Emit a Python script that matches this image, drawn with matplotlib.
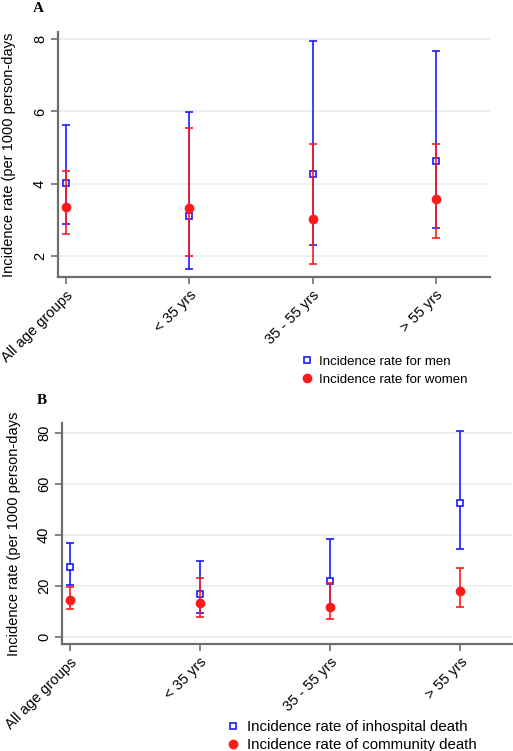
import numpy as np
import matplotlib
matplotlib.use("Agg")
import matplotlib.pyplot as plt

plt.rcParams["font.family"] = ["Liberation Sans", "DejaVu Sans"]

groups = ["All age groups", "< 35 yrs", "35 - 55 yrs", "> 55 yrs"]

# Panel A: incidence by sex
men_rate = [4.02, 3.12, 4.28, 4.64]
men_lo = [2.88, 1.63, 2.30, 2.78]
men_hi = [5.62, 5.98, 7.95, 7.68]
women_rate = [3.37, 3.33, 3.02, 3.58]
women_lo = [2.60, 2.00, 1.78, 2.50]
women_hi = [4.35, 5.53, 5.09, 5.11]

# Panel B: inhospital vs community death
inhosp_rate = [27.5, 16.8, 22.0, 52.5]
inhosp_lo = [20.3, 9.5, 11.8, 34.5]
inhosp_hi = [36.8, 30.0, 38.4, 80.8]
comm_rate = [14.7, 13.4, 11.8, 18.0]
comm_lo = [11.0, 8.0, 7.0, 12.0]
comm_hi = [19.5, 23.0, 21.2, 27.0]

BLUE = "#1a1aff"
RED = "#ff1a1a"
GRID = "#e8f0f2"
AXC = "#6e6e6e"


def panel(ax, s1, s2, lab1, lab2, yticks, ylim, xlim, leg_anchor, leg_fs, leg_sp):
    x = np.arange(1, len(groups) + 1)
    for (rate, lo, hi), col, mk, ms, lab, z in [
            (s1, BLUE, "s", 4.6, lab1, 3), (s2, RED, "o", 5.8, lab2, 4)]:
        rate, lo, hi = map(np.asarray, (rate, lo, hi))
        ax.errorbar(x, rate, yerr=[rate - lo, hi - rate], fmt="none",
                    ecolor=col, elinewidth=1.4, capsize=2.8, capthick=1.4,
                    alpha=0.85, zorder=z)
        ax.plot(x, rate, ls="none", marker=mk, ms=ms, mew=1.2,
                mfc="white" if mk == "s" else col, mec=col,
                zorder=z + 1, label=lab)
    ax.set_xticks(x)
    ax.set_xticklabels(groups, rotation=45, ha="right", rotation_mode="anchor",
                       fontsize=10.5)
    ax.set_yticks(yticks)
    ax.set_yticklabels([str(t) for t in yticks], rotation=90, va="center",
                       fontsize=10.5)
    ax.set_ylim(*ylim)
    ax.set_xlim(*xlim)
    ax.set_ylabel("Incidence rate (per 1000 person-days", fontsize=10.5)
    ax.grid(axis="y", color=GRID, lw=1.2)
    ax.set_axisbelow(True)
    for s in ("top", "right"):
        ax.spines[s].set_visible(False)
    for s in ("left", "bottom"):
        ax.spines[s].set_color(AXC)
        ax.spines[s].set_linewidth(1.6)
    ax.tick_params(color=AXC, width=1.2, length=5, pad=3)
    fig = ax.figure
    ax.legend(loc="upper left", bbox_to_anchor=leg_anchor,
              bbox_transform=fig.transFigure, frameon=False,
              fontsize=leg_fs, handletextpad=0.35, labelspacing=leg_sp,
              handlelength=1.2, borderpad=0)


fig = plt.figure(figsize=(5.13, 7.51), dpi=100)
axA = fig.add_axes([58 / 513, 1 - 277 / 751, (490 - 58) / 513, (277 - 32) / 751])
axB = fig.add_axes([62 / 513, 1 - 644 / 751, (512 - 62) / 513, (644 - 423) / 751])

panel(axA, (men_rate, men_lo, men_hi), (women_rate, women_lo, women_hi),
      "Incidence rate for men", "Incidence rate for women",
      [2, 4, 6, 8], (1.42, 8.2), (0.935, 4.44), (292 / 513, 1 - 349 / 751), 9.5, 0.42)
panel(axB, (inhosp_rate, inhosp_lo, inhosp_hi), (comm_rate, comm_lo, comm_hi),
      "Incidence rate of inhospital death", "Incidence rate of community death",
      [0, 20, 40, 60, 80], (-2.7, 84), (0.94, 4.4), (216 / 513, 1 - 713 / 751), 10.8, 0.22)

axA.yaxis.set_label_coords(-0.098, 0.5)
axB.yaxis.set_label_coords(-0.092, 0.5)

fig.text(38 / 513, 1 - 8 / 751, "A", family=["Liberation Serif", "DejaVu Serif"],
         weight="bold", fontsize=11, va="center", ha="center")
fig.text(42 / 513, 1 - 400 / 751, "B", family=["Liberation Serif", "DejaVu Serif"],
         weight="bold", fontsize=11, va="center", ha="center")

fig.savefig("out.png", dpi=100)
